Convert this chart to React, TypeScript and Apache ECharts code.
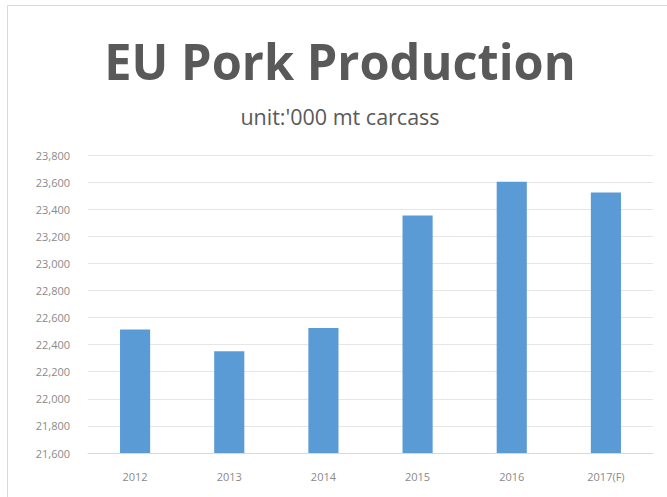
import React, { useEffect, useRef } from "react";
import * as echarts from "echarts";

const categories = ["2012", "2013", "2014", "2015", "2016", "2017(F)"];
const production = [22512, 22352, 22523, 23354, 23602, 23523];
const titleText = "EU Pork Production";
const subtitleText = "unit:'000 mt carcass";

export default function App() {
  const ref = useRef<HTMLDivElement>(null);
  useEffect(() => {
    if (!ref.current) return;
    const chart = echarts.init(ref.current, null, { renderer: "svg" });
    chart.setOption({
      animation: false,
      backgroundColor: "#ffffff",
      graphic: [
        {
          type: "rect",
          shape: { x: 7.5, y: 5.5, width: 700, height: 600 },
          style: { fill: "none", stroke: "#d9d9d9", lineWidth: 1 },
          silent: true,
        },
        {
          type: "text",
          x: 340,
          y: 61,
          scaleX: 0.955,
          style: {
            text: titleText,
            fontFamily: "Open Sans",
            fontWeight: "bold",
            fontSize: 51,
            fill: "#595959",
            align: "center",
            verticalAlign: "middle",
          },
        },
        {
          type: "text",
          x: 340,
          y: 116,
          style: {
            text: subtitleText,
            fontFamily: "Open Sans",
            fontSize: 21.5,
            fill: "#595959",
            align: "center",
            verticalAlign: "middle",
          },
        },
      ],
      grid: { left: 88, right: 14, top: 155, bottom: 44, containLabel: false },
      xAxis: {
        type: "category",
        data: categories,
        axisLine: { lineStyle: { color: "#d9d9d9" } },
        axisTick: { show: false },
        axisLabel: {
          color: "#8a8a8a",
          fontFamily: "Open Sans",
          fontSize: 11,
          margin: 18,
        },
      },
      yAxis: {
        type: "value",
        min: 21600,
        max: 23800,
        interval: 200,
        axisLine: { show: false },
        axisTick: { show: false },
        splitLine: { lineStyle: { color: "#e6e6e6", width: 1 } },
        axisLabel: {
          color: "#8a8a8a",
          fontFamily: "Open Sans",
          fontSize: 11,
          margin: 18,
          formatter: (v: number) => v.toLocaleString("en-US"),
        },
      },
      series: [
        {
          type: "bar",
          data: production,
          barWidth: "32%",
          itemStyle: { color: "#5b9bd5" },
        },
      ],
    });
    return () => chart.dispose();
  }, []);
  return (
    <div
      ref={ref}
      style={{ position: "absolute", left: 0, top: 0, width: 667, height: 497 }}
    />
  );
}
